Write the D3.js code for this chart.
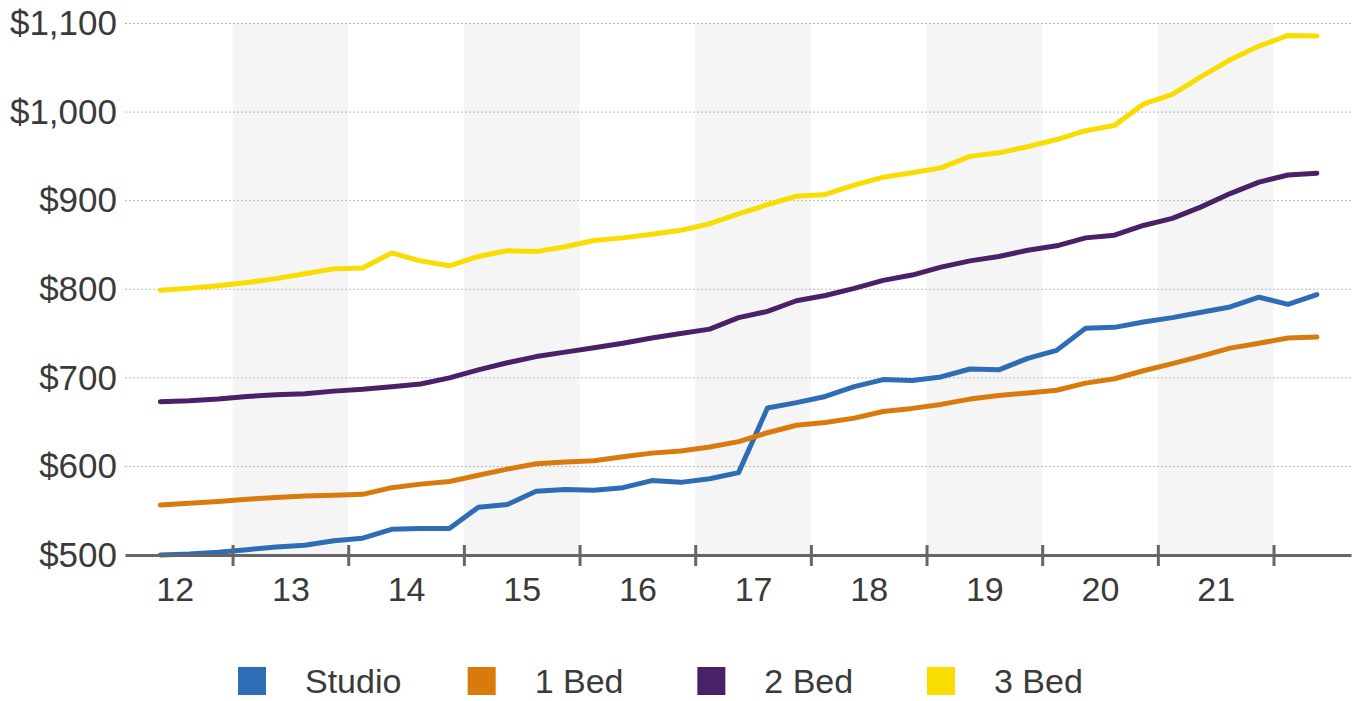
<!DOCTYPE html>
<html>
<head>
<meta charset="utf-8">
<script src="https://cdn.jsdelivr.net/npm/d3@7"></script>
<style>
  html, body { margin: 0; padding: 0; background: #ffffff; }
  svg { display: block; }
  text { font-family: "Liberation Sans", Arial, sans-serif; fill: #3a3a3a; }
</style>
</head>
<body>
<svg id="chart" width="1361" height="701"></svg>
<script>
// Quarterly periods, 2012 Q2 through 2022 Q2
const quarters = [
  "2012-Q2","2012-Q3","2012-Q4",
  "2013-Q1","2013-Q2","2013-Q3","2013-Q4",
  "2014-Q1","2014-Q2","2014-Q3","2014-Q4",
  "2015-Q1","2015-Q2","2015-Q3","2015-Q4",
  "2016-Q1","2016-Q2","2016-Q3","2016-Q4",
  "2017-Q1","2017-Q2","2017-Q3","2017-Q4",
  "2018-Q1","2018-Q2","2018-Q3","2018-Q4",
  "2019-Q1","2019-Q2","2019-Q3","2019-Q4",
  "2020-Q1","2020-Q2","2020-Q3","2020-Q4",
  "2021-Q1","2021-Q2","2021-Q3","2021-Q4",
  "2022-Q1","2022-Q2"
];

// Average monthly rent by unit size
const studio = [500, 501, 503, 506, 509, 511, 516, 519, 529, 530, 530, 554, 557, 572, 574, 573,
  576, 584, 582, 586, 593, 666, 672, 679, 690, 698, 697, 701, 710, 709, 722, 731, 756, 757,
  763, 768, 774, 780, 791, 783, 794];
const bed1 = [556.5, 558.5, 560.5, 563, 565, 566.5, 567.5, 568.5, 576, 580, 583, 590, 597, 603,
  605, 606.5, 611, 615, 617.5, 622, 628, 638, 646.5, 649.5, 654.5, 662, 665.5, 670, 676, 680,
  683, 686, 694, 699, 708, 716, 724.5, 733.5, 739, 745, 746];
const bed2 = [673, 674, 676, 679, 681, 682, 685, 687, 690, 693, 700, 709, 717, 724, 729, 734,
  739, 745, 750, 755, 768, 775, 787, 793, 801, 810, 816, 825, 832, 837, 844, 849, 858, 861,
  872, 880, 893, 908, 921, 929, 931];
const bed3 = [799, 801, 804, 807.5, 812, 817.5, 823, 824, 841, 832, 826.5, 837, 843.5, 842.5,
  848, 855, 858, 862, 866.5, 874, 885, 895.5, 905, 907, 917.5, 926.5, 931.5, 937, 950, 954,
  961, 969, 979, 985, 1009, 1020, 1040, 1059, 1074.5, 1086.5, 1086];

const seriesNames = ["Studio", "1 Bed", "2 Bed", "3 Bed"];
const seriesColors = ["#2e6db6", "#d97b0c", "#4a2067", "#f9dc00"];
const seriesValues = [studio, bed1, bed2, bed3];

const yearLabels = ["12", "13", "14", "15", "16", "17", "18", "19", "20", "21"];
const yTicks = [500, 600, 700, 800, 900, 1000, 1100];

const svg = d3.select("#chart");

// Quarter -> fractional year at the middle of that quarter
const toTime = q => {
  const [y, qq] = q.split("-Q");
  return +y + (+qq - 0.5) / 4;
};

const x = d3.scaleLinear().domain([2012.07, 2022.67]).range([125, 1351]);
const y = d3.scaleLinear().domain([500, 1100]).range([555, 23.5]);

// Alternating year shading (odd years)
const shadeYears = [2013, 2015, 2017, 2019, 2021];
svg.append("g").selectAll("rect")
  .data(shadeYears)
  .join("rect")
  .attr("x", d => x(d))
  .attr("width", d => x(d + 1) - x(d))
  .attr("y", y(1100))
  .attr("height", y(500) - y(1100))
  .attr("fill", "#f5f5f5");

// Dotted horizontal gridlines
svg.append("g").selectAll("line")
  .data(yTicks.filter(v => v > 500))
  .join("line")
  .attr("x1", x.range()[0])
  .attr("x2", x.range()[1])
  .attr("y1", d => y(d))
  .attr("y2", d => y(d))
  .attr("stroke", "#b8b8b8")
  .attr("stroke-width", 1)
  .attr("stroke-dasharray", "2,2");

// Y axis labels
const yAxis = svg.append("g")
  .attr("transform", `translate(${x.range()[0]},0)`)
  .call(d3.axisLeft(y).tickValues(yTicks).tickSize(0).tickPadding(8).tickFormat(d3.format("$,")));
yAxis.select(".domain").remove();
yAxis.selectAll("text")
  .style("font-size", "35px")
  .style("font-family", "'Liberation Sans', Arial, sans-serif")
  .attr("fill", "#3a3a3a");

// Lines
const line = d3.line()
  .x((d, i) => x(toTime(quarters[i])))
  .y(d => y(d));

svg.append("g").selectAll("path")
  .data(seriesValues)
  .join("path")
  .attr("d", d => line(d))
  .attr("fill", "none")
  .attr("stroke", (d, i) => seriesColors[i])
  .attr("stroke-width", 5)
  .attr("stroke-linejoin", "round")
  .attr("stroke-linecap", "round");

// X axis: baseline with year-boundary ticks
const xAxis = svg.append("g")
  .attr("transform", `translate(0,${y(500)})`)
  .call(d3.axisBottom(x)
    .tickValues(d3.range(2013, 2023))
    .tickSizeInner(11)
    .tickSizeOuter(0)
    .tickFormat(""));
xAxis.select(".domain")
  .attr("stroke", "#666666")
  .attr("stroke-width", 3);
xAxis.selectAll(".tick line")
  .attr("y1", -10)
  .attr("y2", 11)
  .attr("stroke", "#666666")
  .attr("stroke-width", 3);

// Year labels centered within each year
const xLabels = svg.append("g")
  .attr("transform", `translate(0,${y(500)})`)
  .call(d3.axisBottom(x)
    .tickValues(yearLabels.map(s => 2000 + +s + 0.5))
    .tickSize(0)
    .tickPadding(22)
    .tickFormat(d => yearLabels[Math.floor(d) - 2012]));
xLabels.select(".domain").remove();
xLabels.selectAll("text")
  .style("font-size", "34px")
  .style("font-family", "'Liberation Sans', Arial, sans-serif")
  .attr("fill", "#3a3a3a");

// Legend
const legendX = d3.scalePoint().domain(seriesNames).range([238, 927]);
const legend = svg.append("g").selectAll("g")
  .data(seriesNames)
  .join("g")
  .attr("transform", d => `translate(${legendX(d)},667)`);
legend.append("rect")
  .attr("width", 28)
  .attr("height", 28)
  .attr("fill", (d, i) => seriesColors[i]);
legend.append("text")
  .attr("x", 67)
  .attr("y", 14)
  .attr("dy", "0.35em")
  .style("font-size", "34px")
  .text(d => d);
</script>
</body>
</html>
